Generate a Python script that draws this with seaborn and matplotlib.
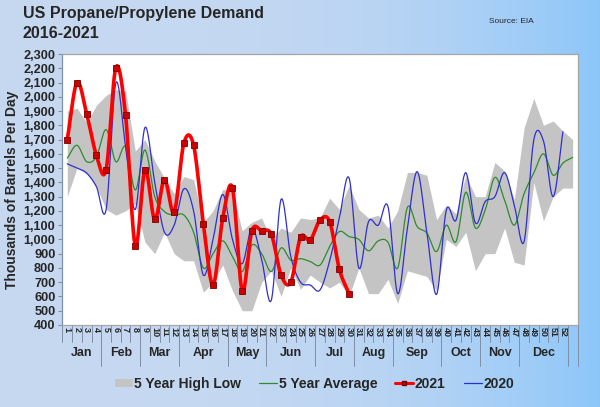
import numpy as np
import pandas as pd
import matplotlib.pyplot as plt
from matplotlib.patches import Patch
from matplotlib.lines import Line2D
from matplotlib.ticker import FuncFormatter
import seaborn as sns

# weeks 1..53 (5 year stats run one week past the labelled axis)
weeks = list(range(1, 54))
week_labels = [str(w) for w in range(1, 53)]
months = ['Jan', 'Feb', 'Mar', 'Apr', 'May', 'Jun', 'Jul', 'Aug', 'Sep', 'Oct', 'Nov', 'Dec']
month_last_week = [4, 8, 12, 17, 21, 26, 30, 34, 39, 43, 47, 52]

demand_2021 = [1700, 2100, 1880, 1590, 1490, 2205, 1870, 955, 1490, 1140,
               1420, 1190, 1675, 1660, 1110, 680, 1150, 1360, 640, 1060,
               1060, 1035, 750, 700, 1015, 995, 1135, 1125, 790, 620]

demand_2020 = [1530, 1500, 1465, 1370, 1210, 2095, 1650, 1210, 1785, 1400,
               1050, 1100, 1355, 1200, 750, 1000, 1315, 1000, 830, 1080,
               860, 575, 1280, 880, 700, 680, 645, 850, 1150, 1430,
               800, 1125, 1100, 1230, 620, 1080, 1475, 1050, 615, 1205,
               1135, 1468, 1115, 1265, 1300, 1468, 1240, 985, 1697, 1690,
               1300, 1755]

avg_5yr = [1570, 1660, 1545, 1580, 1770, 1545, 1650, 1347, 1627, 1300,
           1195, 1171, 1171, 1050, 800, 900, 990, 880, 775, 960,
           900, 775, 940, 855, 865, 845, 820, 950, 1055, 1020,
           1000, 920, 990, 980, 800, 1225, 1090, 1045, 915, 1100,
           985, 1330, 1080, 1205, 1435, 1275, 1100, 1320, 1465, 1600,
           1450, 1535, 1575]

high_5yr = [1900, 1920, 1820, 1940, 2010, 2050, 2040, 1620, 1700, 1550,
            1430, 1320, 1440, 1420, 1120, 1200, 1350, 1340, 1060, 1120,
            1150, 1000, 1080, 1050, 1150, 1140, 1150, 1290, 1210, 1380,
            1210, 1150, 1170, 1080, 1200, 1470, 1470, 1450, 1140, 1240,
            1180, 1450, 1300, 1300, 1540, 1480, 1280, 1780, 1990, 1800,
            1830, 1760, 1700]

low_5yr = [1300, 1500, 1460, 1370, 1210, 1170, 1200, 1250, 980, 900,
           1050, 900, 850, 850, 630, 700, 820, 640, 500, 500,
           700, 780, 600, 800, 650, 750, 700, 660, 700, 600,
           800, 620, 620, 720, 550, 780, 760, 740, 640, 1000,
           950, 1050, 780, 900, 900, 1080, 840, 820, 1400, 1130,
           1300, 1360, 1360]


def smooth(x, y, n=24):
    # catmull-rom, close to excel's "smoothed line"
    x = np.asarray(x, float)
    y = np.asarray(y, float)
    px = np.concatenate([[2 * x[0] - x[1]], x, [2 * x[-1] - x[-2]]])
    py = np.concatenate([[2 * y[0] - y[1]], y, [2 * y[-1] - y[-2]]])
    t = np.linspace(0, 1, n, endpoint=False)
    xs, ys = [], []
    for i in range(1, len(px) - 2):
        for p, out in ((px, xs), (py, ys)):
            p0, p1, p2, p3 = p[i - 1], p[i], p[i + 1], p[i + 2]
            out.append(0.5 * (2 * p1 + (-p0 + p2) * t
                              + (2 * p0 - 5 * p1 + 4 * p2 - p3) * t ** 2
                              + (-p0 + 3 * p1 - 3 * p2 + p3) * t ** 3))
    xs.append([x[-1]])
    ys.append([y[-1]])
    return np.concatenate(xs), np.concatenate(ys)


sns.set_theme(style="white")
plt.rcParams['font.family'] = ['Liberation Sans', 'DejaVu Sans']

fig = plt.figure(figsize=(6, 4.07), dpi=100)

# blue gradient background
bg = fig.add_axes([0, 0, 1, 1], zorder=-5)
grad = np.linspace(0, 1, 300) ** 3
c0 = np.array([0.78, 0.85, 0.945])
c1 = np.array([0.55, 0.78, 0.98])
img = c0[None, :] + (c1 - c0)[None, :] * grad[:, None]
bg.imshow(img[None, :, :], aspect='auto', extent=[0, 1, 0, 1])
bg.axis('off')

ax = fig.add_axes([0.104, 0.2015, 0.8585, 0.6658])
ax.set_facecolor('white')

ax.fill_between(weeks, low_5yr, high_5yr, color='#c4c4c4', lw=0, zorder=1)

gx, gy = smooth(weeks, avg_5yr)
sns.lineplot(x=gx, y=gy, ax=ax, color='#2e8b2e', lw=0.9, sort=False, zorder=2)

bx, by = smooth(weeks[:52], demand_2020)
sns.lineplot(x=bx, y=by, ax=ax, color='#2f2fd0', lw=0.9, sort=False, zorder=3)

rx, ry = smooth(weeks[:30], demand_2021)
sns.lineplot(x=rx, y=ry, ax=ax, color='#ff0000', lw=2.6, sort=False, zorder=4)
ax.plot(weeks[:30], demand_2021, ls='none', marker='s', ms=4.2,
        mfc='#cc0000', mec='#7a0000', mew=0.6, zorder=5)

ax.set_xlim(0.5, 53.5)
ax.set_ylim(400, 2300)
ax.set_yticks(range(400, 2301, 100))
ax.yaxis.set_major_formatter(FuncFormatter(lambda v, p: f'{v:,.0f}'))
ax.tick_params(axis='y', labelsize=9.2, length=3, width=0.8, color='#7f8fa6', pad=2, left=True)
for lab in ax.get_yticklabels():
    lab.set_fontweight('bold')

ax.set_xticks(range(1, 53))
ax.set_xticklabels(week_labels, rotation=-90, fontsize=6.5, fontweight='bold')
ax.tick_params(axis='x', length=0, pad=1.5)

for s in ['top', 'right', 'bottom']:
    ax.spines[s].set_color('#a6a6a6')
    ax.spines[s].set_linewidth(0.9)
ax.spines['left'].set_color('#7f8fa6')
ax.spines['left'].set_linewidth(0.9)

ax.set_ylabel('Thousands of Barrels Per Day', fontsize=10, fontweight='bold', labelpad=3)
ax.set_xlabel('')

# multi level category axis: week cells and month groups
trans = ax.get_xaxis_transform()
for w in range(0, 53):
    ax.plot([w + 0.5, w + 0.5], [0, -0.063], transform=trans, color='#7f8fa6',
            lw=0.7, clip_on=False)
start = 0
for m, last in zip(months, month_last_week):
    ax.plot([last + 0.5, last + 0.5], [0, -0.15], transform=trans, color='#7f8fa6',
            lw=0.7, clip_on=False)
    ax.text((start + last + 1) / 2, -0.105, m, transform=trans, ha='center', va='center',
            fontsize=9, fontweight='bold')
    start = last
ax.plot([53.5, 53.5], [0, -0.15], transform=trans, color='#7f8fa6', lw=0.7, clip_on=False)

fig.text(0.038, 0.985, 'US Propane/Propylene Demand\n2016-2021', va='top', ha='left',
         fontsize=11.5, fontweight='bold', linespacing=1.4)
fig.text(0.815, 0.948, 'Source: EIA', fontsize=6, ha='left', va='center')

handles = [Patch(facecolor='#c4c4c4', edgecolor='none'),
           Line2D([], [], color='#2e8b2e', lw=0.9),
           Line2D([], [], color='#ff0000', lw=2.2, marker='s', ms=3, mfc='#cc0000', mec='#7a0000'),
           Line2D([], [], color='#2f2fd0', lw=0.9)]
fig.legend(handles, ['5 Year High Low', '5 Year Average', '2021', '2020'],
           loc='center', bbox_to_anchor=(0.524, 0.057), ncol=4, frameon=False,
           prop={'weight': 'bold', 'size': 10}, handlelength=1.3, handletextpad=0.1,
           columnspacing=1.3, handleheight=0.5)

fig.savefig('out.png', dpi=100)
